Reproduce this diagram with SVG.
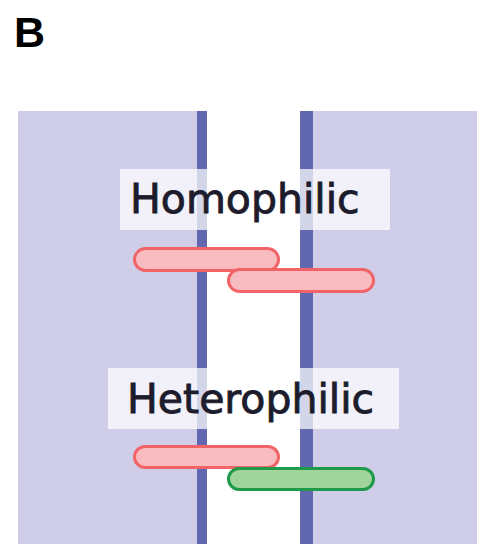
<svg xmlns="http://www.w3.org/2000/svg" width="477" height="544" viewBox="0 0 477 544">
<style>
.mem{fill:#d0cde8}
.band{fill:#6268b0}
.lblbox{fill:#ffffff;fill-opacity:0.72}
.lbl{font-family:"DejaVu Sans",sans-serif;font-size:41px;fill:#1c1c2c;stroke:#1c1c2c;stroke-width:0.9}
.red{fill:#f8bcc0;stroke:#f06468;stroke-width:3}
.green{fill:#a0d49a;stroke:#1f9a4a;stroke-width:3}
.title{font-family:"Liberation Sans",Arial,sans-serif;font-weight:bold;font-size:43px;fill:#000}
</style>
<rect width="477" height="544" fill="#ffffff"/>
<text class="title" x="14" y="47">B</text>
<g id="membrane">
<rect class="mem" x="18" y="111" width="179" height="433"/>
<rect class="band" x="197" y="111" width="10" height="433"/>
<rect class="band" x="300" y="111" width="13" height="433"/>
<rect class="mem" x="313" y="111" width="164" height="433"/>
</g>
<g id="homophilic">
<rect class="lblbox" x="120" y="169" width="270" height="61"/>
<text class="lbl" x="130" y="213">Homophilic</text>
<rect class="red" x="134.5" y="248.5" width="144" height="22" rx="11"/>
<rect class="red" x="228.5" y="269.5" width="145" height="22" rx="11"/>
</g>
<g id="heterophilic">
<rect class="lblbox" x="108" y="368" width="291" height="61"/>
<text class="lbl" x="127" y="413">Heterophilic</text>
<rect class="red" x="134.5" y="446.5" width="144" height="21" rx="10.5"/>
<rect class="green" x="228.5" y="468.5" width="145" height="21" rx="10.5"/>
</g>
<g id="connectors"></g>
</svg>
